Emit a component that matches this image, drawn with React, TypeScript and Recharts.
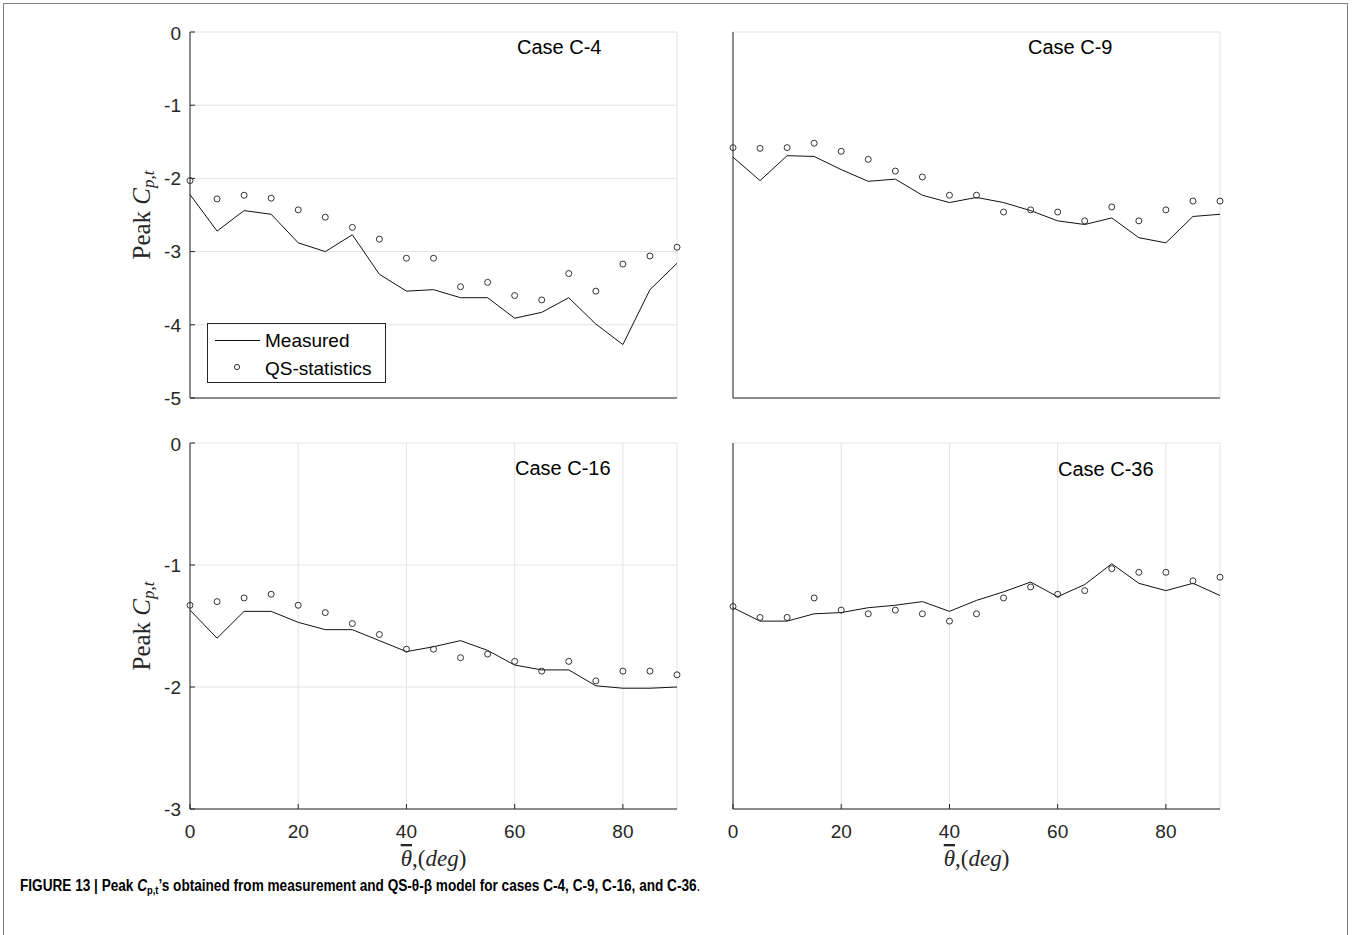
import React from 'react';
import { ComposedChart, Line, XAxis, YAxis, CartesianGrid, Legend } from 'recharts';

// incidence angle (deg)
const angles = [0, 5, 10, 15, 20, 25, 30, 35, 40, 45, 50, 55, 60, 65, 70, 75, 80, 85, 90];

// Case C-4
const c4Measured = [-2.22, -2.72, -2.44, -2.49, -2.88, -3.0, -2.77, -3.31, -3.54, -3.52, -3.63, -3.63, -3.91, -3.83, -3.63, -3.99, -4.27, -3.52, -3.16];
const c4Qs = [-2.03, -2.28, -2.23, -2.27, -2.43, -2.53, -2.67, -2.83, -3.09, -3.09, -3.48, -3.42, -3.6, -3.66, -3.3, -3.54, -3.17, -3.06, -2.94];

// Case C-9
const c9Measured = [-1.71, -2.03, -1.69, -1.7, -1.88, -2.04, -2.01, -2.23, -2.33, -2.26, -2.33, -2.44, -2.58, -2.63, -2.54, -2.81, -2.88, -2.52, -2.49];
const c9Qs = [-1.58, -1.59, -1.58, -1.52, -1.63, -1.74, -1.9, -1.98, -2.23, -2.23, -2.46, -2.43, -2.46, -2.58, -2.39, -2.58, -2.43, -2.31, -2.31];

// Case C-16
const c16Measured = [-1.37, -1.6, -1.38, -1.38, -1.47, -1.53, -1.53, -1.62, -1.71, -1.67, -1.62, -1.7, -1.82, -1.86, -1.86, -1.99, -2.01, -2.01, -2.0];
const c16Qs = [-1.33, -1.3, -1.27, -1.24, -1.33, -1.39, -1.48, -1.57, -1.69, -1.69, -1.76, -1.73, -1.79, -1.87, -1.79, -1.95, -1.87, -1.87, -1.9];

// Case C-36
const c36Measured = [-1.35, -1.46, -1.46, -1.4, -1.39, -1.35, -1.33, -1.3, -1.38, -1.29, -1.22, -1.14, -1.26, -1.16, -0.99, -1.15, -1.21, -1.15, -1.25];
const c36Qs = [-1.34, -1.43, -1.43, -1.27, -1.37, -1.4, -1.37, -1.4, -1.46, -1.4, -1.27, -1.18, -1.24, -1.21, -1.03, -1.06, -1.06, -1.13, -1.1];

const xTicks = [0, 20, 40, 60, 80];
const yTicksTop = [-5, -4, -3, -2, -1, 0];
const yTicksBottom = [-3, -2, -1, 0];
const caseLabels = ['Case C-4', 'Case C-9', 'Case C-16', 'Case C-36'];
const seriesNames = ['Measured', 'QS-statistics'];

const AXIS_W = 70;
const TOP_PAD = 10;
const RIGHT_PAD = 12;
const XAXIS_H = 70;
const PLOT_W = 487;
const PLOT_H = 366;
const AXIS_COLOR = '#262626';
const GRID_COLOR = '#e3e3e3';
const SANS = '"Liberation Sans", Arial, Helvetica, sans-serif';
const SERIF = '"Liberation Serif", "Times New Roman", serif';

const renderYLabel = (props: any) => {
  const vb = props.viewBox;
  const cx = vb.x + 30;
  const cy = vb.y + vb.height / 2;
  return (
    <text
      x={cx}
      y={cy}
      transform={`rotate(-90, ${cx}, ${cy})`}
      textAnchor="middle"
      fontFamily={SERIF}
      fontSize={25}
      fill={AXIS_COLOR}
    >
      Peak <tspan fontStyle="italic">C</tspan>
      <tspan fontStyle="italic" fontSize={17} dy={4}>p,t</tspan>
    </text>
  );
};

const renderXLabel = (props: any) => {
  const vb = props.viewBox;
  return (
    <text
      x={vb.x + vb.width / 2}
      y={vb.y + 57}
      textAnchor="middle"
      fontFamily={SERIF}
      fontSize={23}
      fill={AXIS_COLOR}
    >
      <tspan fontStyle="italic" style={{ textDecoration: 'overline' }}>θ</tspan>
      <tspan>,(</tspan>
      <tspan fontStyle="italic">deg</tspan>
      <tspan>)</tspan>
    </text>
  );
};

const renderLegend = (props: any) => {
  const items = props.payload || [];
  return (
    <svg width={179} height={60} style={{ display: 'block' }}>
      <rect x={0.5} y={0.5} width={178} height={59} fill="#fff" stroke={AXIS_COLOR} strokeWidth={1} />
      {items.map((it: any, i: number) => (
        <g key={it.value}>
          {i === 0 ? (
            <line x1={8} x2={53} y1={17.5} y2={17.5} stroke="#111" strokeWidth={1} />
          ) : (
            <circle cx={30} cy={44} r={2.6} fill="none" stroke="#333" strokeWidth={1} />
          )}
          <text x={58} y={i === 0 ? 24 : 52} fontFamily={SANS} fontSize={19} fill="#000">
            {it.value}
          </text>
        </g>
      ))}
    </svg>
  );
};

interface PanelProps {
  left: number;
  top: number;
  measured: number[];
  qs: number[];
  yTicks: number[];
  xLabels: boolean;
  yLabels: boolean;
  legend?: boolean;
}

function Panel({ left, top, measured, qs, yTicks, xLabels, yLabels, legend }: PanelProps) {
  const data = angles.map((a, i) => ({ angle: a, measured: measured[i], qs: qs[i] }));
  const tickStyle = { fontFamily: SANS, fontSize: 19, fill: AXIS_COLOR };
  return (
    <div style={{ position: 'absolute', left: left - AXIS_W, top: top - TOP_PAD }}>
      <ComposedChart
        width={AXIS_W + PLOT_W + RIGHT_PAD}
        height={TOP_PAD + PLOT_H + XAXIS_H}
        data={data}
        margin={{ top: TOP_PAD, right: RIGHT_PAD, bottom: 0, left: 0 }}
      >
        <CartesianGrid stroke={GRID_COLOR} />
        <XAxis
          type="number"
          dataKey="angle"
          domain={[0, 90]}
          ticks={xTicks}
          height={XAXIS_H}
          stroke={AXIS_COLOR}
          tickSize={-5}
          tickMargin={21}
          tick={xLabels ? tickStyle : false}
          label={xLabels ? { content: renderXLabel } : undefined}
        />
        <YAxis
          type="number"
          domain={[yTicks[0], 0]}
          ticks={yTicks}
          width={AXIS_W}
          stroke={AXIS_COLOR}
          tickSize={-5}
          tickMargin={14}
          tick={yLabels ? tickStyle : false}
          label={yLabels ? { content: renderYLabel } : undefined}
        />
        <Line
          type="linear"
          dataKey="measured"
          name={seriesNames[0]}
          stroke="#111"
          strokeWidth={1}
          dot={false}
          activeDot={false}
          isAnimationActive={false}
        />
        <Line
          type="linear"
          dataKey="qs"
          name={seriesNames[1]}
          stroke="none"
          dot={{ r: 3, stroke: '#333', strokeWidth: 1, fill: 'none' }}
          activeDot={false}
          isAnimationActive={false}
        />
        {legend && (
          <Legend
            layout="vertical"
            align="center"
            verticalAlign="middle"
            content={renderLegend}
            wrapperStyle={{ left: 87, top: 301, width: 179, height: 60 }}
          />
        )}
      </ComposedChart>
    </div>
  );
}

// text placement of the case labels: [left, baseline]
const casePos = [
  [517, 54],
  [1028, 54],
  [515, 475],
  [1058, 476],
];

export default function App() {
  return (
    <div
      style={{
        position: 'absolute',
        left: 0,
        top: 0,
        width: 1352,
        height: 935,
        background: '#fff',
        fontFamily: SANS,
        overflow: 'hidden',
      }}
    >
      <div
        style={{
          position: 'absolute',
          left: 3,
          top: 3,
          width: 1343,
          height: 960,
          border: '1.5px solid #808080',
        }}
      />
      <Panel left={190} top={32} measured={c4Measured} qs={c4Qs} yTicks={yTicksTop} xLabels={false} yLabels legend />
      <Panel left={733} top={32} measured={c9Measured} qs={c9Qs} yTicks={yTicksTop} xLabels={false} yLabels={false} />
      <Panel left={190} top={443} measured={c16Measured} qs={c16Qs} yTicks={yTicksBottom} xLabels yLabels />
      <Panel left={733} top={443} measured={c36Measured} qs={c36Qs} yTicks={yTicksBottom} xLabels yLabels={false} />
      <svg width={1352} height={935} style={{ position: 'absolute', left: 0, top: 0, pointerEvents: 'none' }}>
        {caseLabels.map((c, i) => (
          <text key={c} x={casePos[i][0]} y={casePos[i][1]} fontFamily={SANS} fontSize={20} fill="#000">
            {c}
          </text>
        ))}
      </svg>
      <div
        style={{
          position: 'absolute',
          left: 20,
          top: 877,
          fontFamily: '"Liberation Sans Narrow", "Arial Narrow", "Liberation Sans", sans-serif',
          fontWeight: 'bold',
          fontSize: 16,
          lineHeight: '18px',
          whiteSpace: 'nowrap',
          color: '#000',
          transform: 'scaleX(0.85)',
          transformOrigin: 'left center',
        }}
      >
        FIGURE 13 | Peak <i>C</i>
        <span style={{ fontSize: 11, position: 'relative', top: 3 }}>p,t</span>’s obtained from measurement and
        QS-θ-β model for cases C-4, C-9, C-16, and C-36<span style={{ fontWeight: 'normal' }}>.</span>
      </div>
    </div>
  );
}
